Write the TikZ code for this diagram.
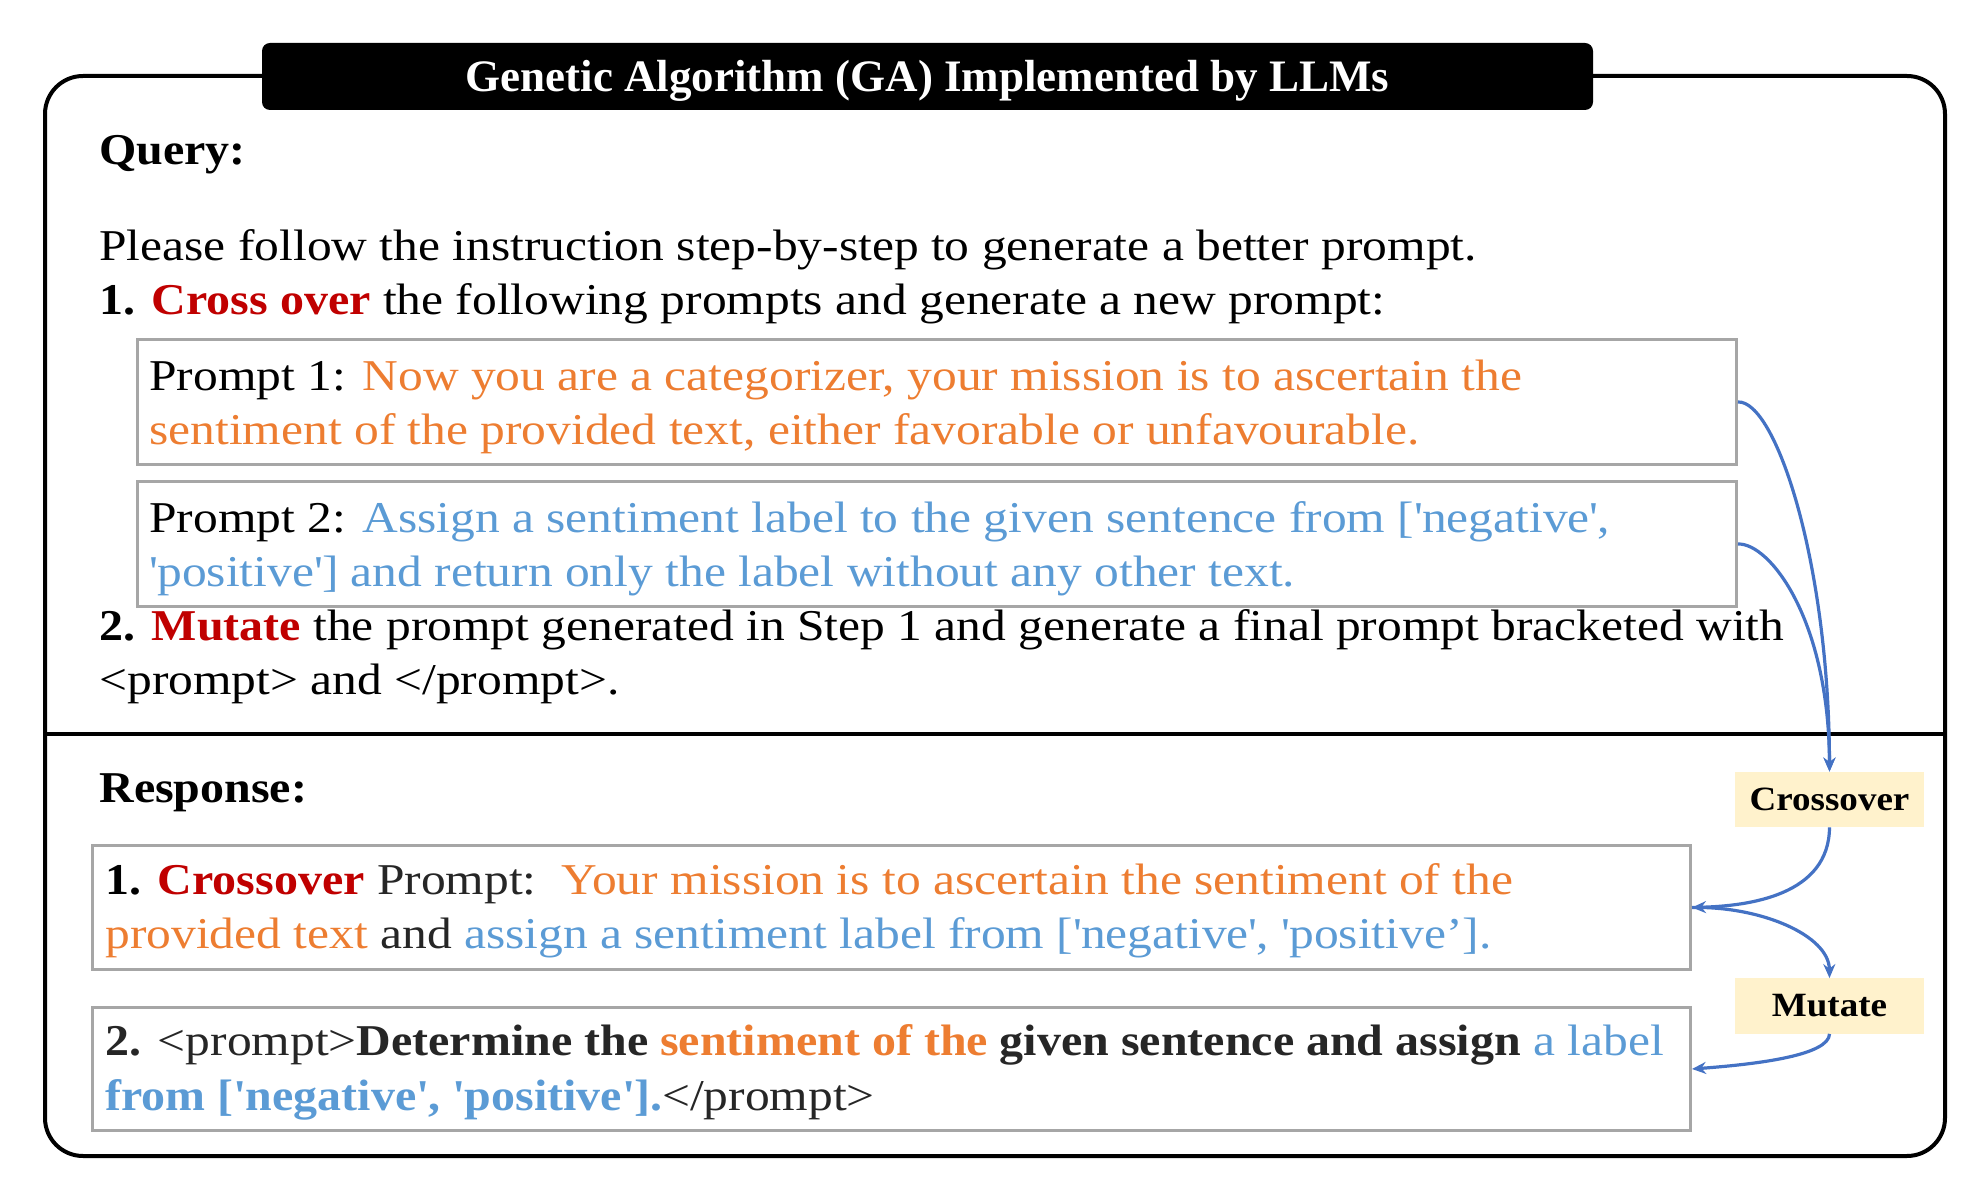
\documentclass[tikz,border=0pt]{standalone}
\usepackage{fontspec}
\setmainfont[FakeStretch=1.125, BoldFeatures={FakeStretch=1.09}]{Liberation Serif}
\newfontfamily\titlefont{Liberation Serif}
\usetikzlibrary{arrows.meta}
\definecolor{cred}{HTML}{C00000}
\definecolor{corange}{HTML}{ED7D31}
\definecolor{cblue}{HTML}{5B9BD5}
\definecolor{carrow}{HTML}{4472C4}
\definecolor{clabel}{HTML}{FFF2CC}
\definecolor{cgrayline}{HTML}{A6A6A6}
\definecolor{cdark}{HTML}{262626}
\newcommand{\squote}{\textquotesingle}
\newcommand{\OR}[1]{\textcolor{corange}{#1}}
\newcommand{\BL}[1]{\textcolor{cblue}{#1}}
\newcommand{\RD}[1]{\textcolor{cred}{#1}}
\begin{document}
\begin{tikzpicture}[x=0.5pt,y=-0.5pt,
  txt/.style={anchor=base west, inner sep=0pt, font=\fontsize{22pt}{27pt}\selectfont},
  pbox/.style={draw=cgrayline, line width=1.5pt, anchor=north west, inner sep=0pt},
  lab/.style={fill=clabel, inner sep=0pt, minimum width=94.5pt, minimum height=27.5pt, font=\fontsize{17pt}{20pt}\selectfont\bfseries},
  conn/.style={draw=carrow, line width=1.6pt, -{Stealth[length=7pt,width=6pt]}},
]
\useasboundingbox (0,0) rectangle (1978,1181);
% outer frame
\draw[line width=2pt, rounded corners=19pt] (45,76) rectangle (1945,1156);
\draw[line width=2pt] (45,734) -- (1945,734);
% title
\node[fill=black, rounded corners=4pt, minimum width=665.5pt, minimum height=33.5pt, inner sep=0pt] (titlebar) at (927.5,76.5) {};
\node[anchor=base, inner sep=0pt, text=white, font=\titlefont\bfseries\fontsize{22.5pt}{27pt}\selectfont] (title) at (927.5,92) {Genetic Algorithm (GA) Implemented by LLMs};
% boxes
\node[pbox, minimum width=799.5pt, minimum height=62.5pt] (p1) at (136,338) {};
\node[pbox, minimum width=799.5pt, minimum height=62.5pt] (p2) at (136,480) {};
\node[pbox, minimum width=799pt, minimum height=62pt] (r1) at (91,844) {};
\node[pbox, minimum width=799pt, minimum height=61.5pt] (r2) at (91,1006) {};
% labels
\node[lab] (cx) at (1829.5,799.5) {Crossover};
\node[lab] (mu) at (1829.5,1006) {Mutate};
% query text
\node[txt] (query) at (99,165) {\bfseries Query:};
\node[txt] (l1) at (99,261) {Please follow the instruction step-by-step to generate a better prompt.};
\node[txt] (l2) at (99,315) {\textbf{1.} \RD{\textbf{Cross over}} the following prompts and generate a new prompt:};
\node[txt] (p1a) at (149,391) {Prompt 1: \OR{Now you are a categorizer, your mission is to ascertain the}};
\node[txt] (p1b) at (149,445) {\OR{sentiment of the provided text, either favorable or unfavourable.}};
\node[txt] (p2a) at (149,533) {Prompt 2: \BL{Assign a sentiment label to the given sentence from [\squote negative\squote,}};
\node[txt] (p2b) at (149,587) {\BL{\squote positive\squote] and return only the label without any other text.}};
\node[txt] (l3) at (99,641) {\textbf{2.} \RD{\textbf{Mutate}} the prompt generated in Step 1 and generate a final prompt bracketed with};
\node[txt] (l4) at (99,695) {<prompt> and </prompt>.};
% response text
\node[txt] (resp) at (99,803) {\bfseries Response:};
\node[txt] (r1a) at (105,895) {\textbf{1.} \RD{\textbf{Crossover}} \textcolor{cdark}{Prompt:}\ \ \OR{Your mission is to ascertain the sentiment of the}};
\node[txt] (r1b) at (105,949) {\OR{provided text} \textcolor{cdark}{and} \BL{assign a sentiment label from [\squote negative\squote, \squote positive’].}};
\node[txt, text=cdark] (r2a) at (105,1056) {\textbf{2.} <prompt>\textbf{Determine the \OR{sentiment of the} given sentence and assign} \BL{a label}};
\node[txt, text=cdark] (r2b) at (105,1110) {\BL{\textbf{from [\squote negative\squote, \squote positive\squote].}}</prompt>};
% connectors
\draw[conn] (p1.east) .. controls (1775,400) and (1829,560) .. (cx.north);
\draw[conn] (p2.east) .. controls (1770,543) and (1829,620) .. (cx.north);
\draw[conn] (cx.south) .. controls (1829,895) and (1750,906) .. (r1.east);
\draw[conn] (r1.east) .. controls (1760,906) and (1829,935) .. (mu.north);
\draw[conn] (mu.south) .. controls (1829,1055) and (1760,1064) .. (r2.east);
\end{tikzpicture}
\end{document}
